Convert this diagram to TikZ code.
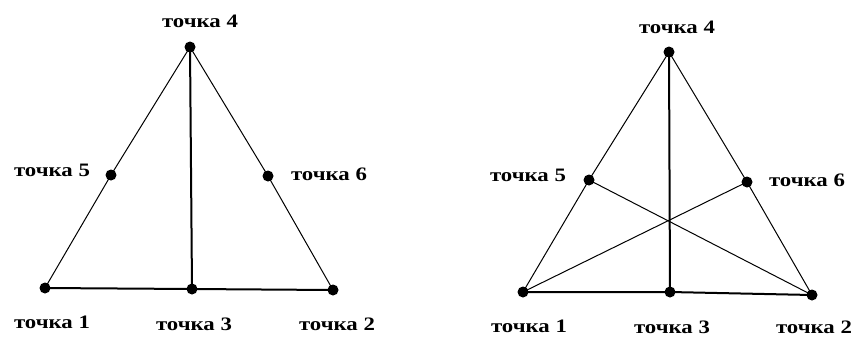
\documentclass[tikz,border=0pt]{standalone}
\usepackage{fontspec}
\setmainfont{Liberation Serif}
\newfontfamily\lblfont[FakeStretch=1.2]{Liberation Serif}

\begin{document}
\begin{tikzpicture}[x=1pt,y=-1pt,
  dot/.style={circle,fill=black,inner sep=0pt,minimum size=11pt},
  lbl/.style={font=\lblfont\bfseries\fontsize{19}{22}\selectfont,inner sep=0pt},
  side/.style={line width=1pt},
  base/.style={line width=2pt}]
  \useasboundingbox (0,0) rectangle (856,338);
  % left triangle
  \node[dot] (a1) at (45,288) {};
  \node[dot] (a2) at (333,290) {};
  \node[dot] (a3) at (192,289) {};
  \node[dot] (a4) at (190,47) {};
  \node[dot] (a5) at (111,175) {};
  \node[dot] (a6) at (268,176) {};
  \draw[side] (a1.center) -- (a5.center) -- (a4.center) -- (a6.center) -- (a2.center);
  \draw[base] (a1.center) -- (a3.center) -- (a2.center);
  \draw[base] (a4.center) -- (a3.center);
  \node[lbl] (ta1) at (52,322) {точка 1};
  \node[lbl] (ta2) at (337,324) {точка 2};
  \node[lbl] (ta3) at (194,324) {точка 3};
  \node[lbl] (ta4) at (200,21) {точка 4};
  \node[lbl] (ta5) at (52,170) {точка 5};
  \node[lbl] (ta6) at (329,174) {точка 6};
  % right triangle
  \node[dot] (b1) at (523,292) {};
  \node[dot] (b2) at (812,295) {};
  \node[dot] (b3) at (670,292) {};
  \node[dot] (b4) at (669,52) {};
  \node[dot] (b5) at (589,180) {};
  \node[dot] (b6) at (747,182) {};
  \draw[side] (b1.center) -- (b5.center) -- (b4.center) -- (b6.center) -- (b2.center);
  \draw[side] (b1.center) -- (b6.center);
  \draw[side] (b5.center) -- (b2.center);
  \draw[base] (b1.center) -- (b3.center) -- (b2.center);
  \draw[base] (b4.center) -- (b3.center);
  \node[lbl] (tb1) at (529,326) {точка 1};
  \node[lbl] (tb2) at (814,327) {точка 2};
  \node[lbl] (tb3) at (672,327) {точка 3};
  \node[lbl] (tb4) at (677,27) {точка 4};
  \node[lbl] (tb5) at (528,175) {точка 5};
  \node[lbl] (tb6) at (807,180) {точка 6};
\end{tikzpicture}
\end{document}
